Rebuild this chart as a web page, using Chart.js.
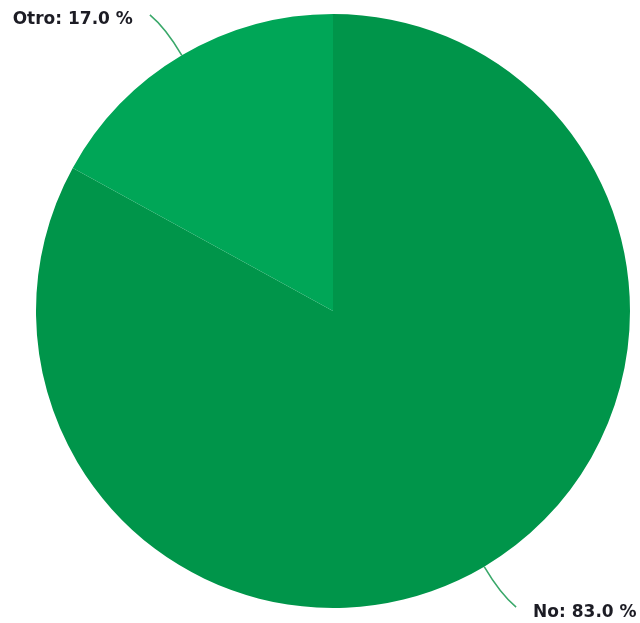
<!DOCTYPE html>
<html lang="es">
  <head>
    <meta charset="UTF-8" />
    <title>Pie - No / Otro</title>
    <script src="https://cdn.jsdelivr.net/npm/chart.js@4.4.0/dist/chart.umd.min.js"></script>
  </head>
  <style>
    html, body {
      margin: 0;
      padding: 0;
      background: #ffffff;
    }

    .chart-container {
      width: 640px;
      height: 623px;
    }
  </style>
  <body>
    <div class="chart-container">
      <canvas id="pieChart"></canvas>
    </div>

    <script>
      const categories = ["No", "Otro"];
      const values = [83.0, 17.0];
      const sliceColors = ["#00954a", "#00a657"];

      // Draws "Label: xx.x %" outside each slice with a curved leader line
      const outerLabels = {
        id: "outerLabels",
        afterDraw(chart) {
          const ctx = chart.ctx;
          const meta = chart.getDatasetMeta(0);
          meta.data.forEach((arc, i) => {
            const p = arc.getProps(["x", "y", "startAngle", "endAngle", "outerRadius"], true);
            const mid = (p.startAngle + p.endAngle) / 2;
            const dx = Math.cos(mid);
            const dy = Math.sin(mid);
            const side = dx < 0 ? -1 : 1;

            const sx = p.x + p.outerRadius * dx;
            const sy = p.y + p.outerRadius * dy;
            const cx = p.x + (p.outerRadius + 32) * dx;
            const cy = p.y + (p.outerRadius + 32) * dy;
            const ex = p.x + (p.outerRadius + 47) * dx + side * 8;
            const ey = p.y + (p.outerRadius + 47) * dy;

            ctx.save();
            ctx.strokeStyle = "#3aa86a";
            ctx.lineWidth = 1.6;
            ctx.beginPath();
            ctx.moveTo(sx, sy);
            ctx.quadraticCurveTo(cx, cy, ex, ey);
            ctx.stroke();

            ctx.fillStyle = "#1c1c24";
            ctx.font = "bold 17px 'DejaVu Sans', Verdana, sans-serif";
            ctx.textBaseline = "middle";
            ctx.textAlign = side < 0 ? "right" : "left";
            const text = categories[i] + ": " + values[i].toFixed(1) + " %";
            ctx.fillText(text, ex + side * 17, ey + 5);
            ctx.restore();
          });
        },
      };

      new Chart(document.getElementById("pieChart"), {
        type: "pie",
        data: {
          labels: categories,
          datasets: [
            {
              data: values,
              backgroundColor: sliceColors,
              borderWidth: 0,
            },
          ],
        },
        options: {
          responsive: true,
          maintainAspectRatio: false,
          animation: false,
          layout: {
            padding: { top: 14, bottom: 15, left: 36, right: 10 },
          },
          plugins: {
            legend: { display: false },
            tooltip: { enabled: false },
          },
        },
        plugins: [outerLabels],
      });
    </script>
  </body>
</html>
